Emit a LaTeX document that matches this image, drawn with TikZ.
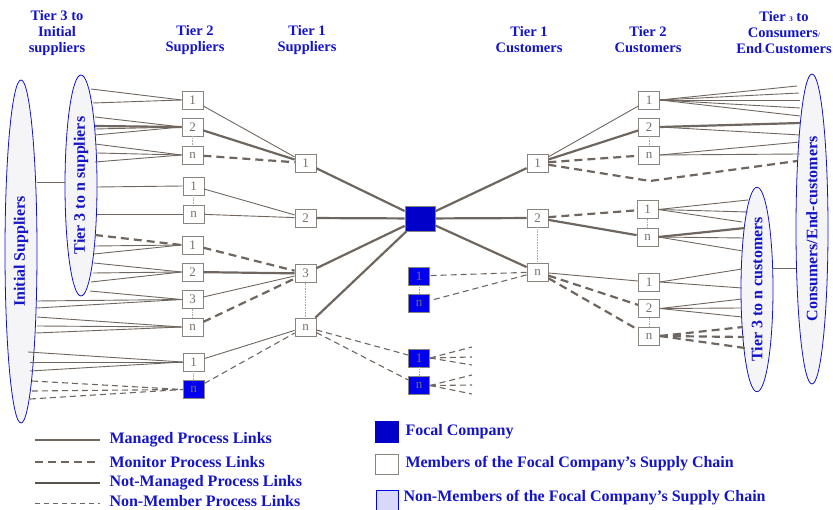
\documentclass[tikz,border=0pt]{standalone}
\usepackage{fontspec}
\setmainfont{Liberation Serif}
\usepackage{xcolor}
\usepackage{tikz}
\usetikzlibrary{shapes.geometric,calc}
\definecolor{linkgray}{HTML}{6F675F}
\definecolor{boxgray}{HTML}{8A847E}
\definecolor{numgray}{HTML}{77706A}
\definecolor{headblue}{HTML}{1414C8}
\definecolor{focalblue}{HTML}{0000C8}
\definecolor{nonblue}{HTML}{0000EE}
\definecolor{ellfill}{HTML}{F5F5F8}
\definecolor{lightnon}{HTML}{D8D8F8}

\begin{document}
\begin{tikzpicture}[x=1pt, y=-1pt,
    member/.style={rectangle, draw=boxgray, fill=white, line width=0.8pt, minimum width=21pt, minimum height=18pt, inner sep=0pt, text=numgray, font=\fontsize{13}{13}\selectfont},
    nonmember/.style={member, fill=nonblue},
    focal/.style={rectangle, draw=boxgray, fill=focalblue, line width=0.8pt, minimum width=30pt, minimum height=25pt},
    tier/.style={ellipse, draw=headblue, fill=ellfill, line width=0.8pt, inner sep=0pt, rotate=90, minimum height=32pt, text=headblue, font=\fontsize{16}{18}\selectfont\bfseries},
    heading/.style={align=center, text=headblue, font=\fontsize{14.5}{16}\selectfont\bfseries},
    legtext/.style={anchor=west, text=headblue, font=\fontsize{16}{18}\selectfont\bfseries},
    managed/.style={draw=linkgray, line width=2.2pt},
    monitor/.style={draw=linkgray, line width=2.2pt, dash pattern=on 8pt off 5pt},
    notmanaged/.style={draw=linkgray, line width=0.9pt},
    nonmemlink/.style={draw=linkgray, line width=1.1pt, dash pattern=on 6pt off 4pt},
    grouplink/.style={draw=boxgray!70, densely dotted, line width=0.6pt}
]
    \useasboundingbox (0,0) rectangle (833,510);

    % Column headings
    \node[heading] (h3s) at (57,33) {Tier 3 to\\Initial\\suppliers};
    \node[heading] (h2s) at (195,40) {Tier 2\\Suppliers};
    \node[heading] (h1s) at (307,40) {Tier 1\\Suppliers};
    \node[heading] (h1c) at (529,40) {Tier 1\\Customers};
    \node[heading] (h2c) at (648,40) {Tier 2\\Customers};
    \node[heading] (h3c) at (784,33) {Tier {\scriptsize 3} to\\Consumers{\scriptsize/}\\End{\footnotesize-}Customers};

    % Supplier and customer ellipses
    \node[tier, minimum width=343pt] (initsup) at (21,251.5) {Initial Suppliers};
    \node[tier, minimum width=221pt] (t3sup) at (81,185.5) {Tier 3 to n suppliers};
    \node[tier, minimum width=310pt] (endcust) at (812,229) {Consumers/End-customers};
    \node[tier, minimum width=195pt] (t3cust) at (757,289.5) {Tier 3 to n customers};
    \coordinate (sjoin) at (65,182);
    \coordinate (cjoin) at (773,268);
    \draw[notmanaged] (initsup.south |- sjoin) -- (sjoin);
    \draw[notmanaged] (cjoin) -- (endcust.north |- cjoin);

    % Tier 2 suppliers
    \node[member] (s2a1) at (192.5,100) {1};
    \node[member] (s2a2) at (192.5,127) {2};
    \node[member] (s2an) at (192.5,155) {n};
    \node[member] (s2b1) at (193.5,186) {1};
    \node[member] (s2bn) at (193.5,214) {n};
    \node[member] (s2c1) at (192.5,245) {1};
    \node[member] (s2c2) at (192.5,272) {2};
    \node[member] (s2c3) at (192.5,299.5) {3};
    \node[member] (s2cn) at (192.5,327) {n};
    \node[member] (s2d1) at (193.5,362) {1};
    \node[nonmember] (s2dn) at (193.5,389.5) {n};

    % Tier 1 suppliers, focal company, tier 1 customers
    \node[member] (t1s1) at (305.5,163) {1};
    \node[member] (t1s2) at (305.5,218) {2};
    \node[member] (t1s3) at (305.5,273.5) {3};
    \node[member] (t1sn) at (305.5,327) {n};
    \node[focal] (focal) at (420,218.5) {};
    \node[member] (c1a) at (537.5,163) {1};
    \node[member] (c1b) at (537.5,218) {2};
    \node[member] (c1n) at (537.5,272) {n};

    % Non-members in the middle
    \node[nonmember] (m1a) at (419,276) {1};
    \node[nonmember] (m1n) at (419,303.5) {n};
    \node[nonmember] (m2a) at (419,358) {1};
    \node[nonmember] (m2n) at (419,385.5) {n};

    % Tier 2 customers
    \node[member] (c2a1) at (649,100) {1};
    \node[member] (c2a2) at (649,127) {2};
    \node[member] (c2an) at (649,155) {n};
    \node[member] (c2b1) at (647.5,209.5) {1};
    \node[member] (c2bn) at (647.5,237) {n};
    \node[member] (c2c1) at (649,282) {1};
    \node[member] (c2c2) at (649,308.5) {2};
    \node[member] (c2cn) at (649,336) {n};

    % Dotted group markers
    \foreach \a/\b in {s2a2/s2an, s2b1/s2bn, s2c3/s2cn, s2d1/s2dn, t1s3/t1sn, c1b/c1n, c2a2/c2an, c2b1/c2bn, c2c2/c2cn, m1a/m1n, m2a/m2n}
        \draw[grouplink] (\a) -- (\b);

    % Links from the supplier ellipses
    \foreach \x/\y/\n/\s [count=\i] in {91/89/s2a1/notmanaged, 93/103/s2a1/notmanaged,
        95/117/s2a2/notmanaged, 95/126/s2a2/managed, 95/129/s2a2/notmanaged, 95/135/s2a2/notmanaged,
        95/144/s2an/notmanaged, 97/153/s2an/notmanaged, 95/162/s2an/notmanaged,
        97/187/s2b1/notmanaged, 97/214/s2bn/notmanaged,
        95/235/s2c1/monitor, 95/246/s2c1/notmanaged, 94/254/s2c1/notmanaged,
        94/263/s2c2/notmanaged, 93/273/s2c2/notmanaged, 91/282/s2c2/notmanaged,
        90/291/s2c3/notmanaged, 37/301/s2c3/notmanaged, 37/308/s2c3/notmanaged,
        37/317/s2cn/notmanaged, 37/326/s2cn/notmanaged, 36/333/s2cn/notmanaged,
        28/352/s2d1/notmanaged, 30/362/s2d1/notmanaged, 30/371/s2d1/notmanaged,
        32/381/s2dn/nonmemlink, 32/391/s2dn/nonmemlink, 30/399/s2dn/nonmemlink} {
        \coordinate (sf\i) at (\x,\y);
        \draw[\s] (sf\i) -- (\n.west);
    }

    % Supplier side links
    \draw[notmanaged] (s2a1) -- (t1s1);
    \draw[managed] (s2a2) -- (t1s1);
    \draw[monitor] (s2an) -- (t1s1);
    \draw[notmanaged] (s2b1) -- (t1s2);
    \draw[notmanaged] (s2bn) -- (t1s2);
    \draw[monitor] (s2c1) -- (t1s3);
    \draw[managed] (s2c2) -- (t1s3);
    \draw[notmanaged] (s2c3) -- (t1s3);
    \draw[monitor] (s2cn) -- (t1s3);
    \draw[notmanaged] (s2d1) -- (t1sn);
    \draw[nonmemlink] (s2dn) -- (t1sn);
    \foreach \n in {t1s1,t1s2,t1s3,t1sn}
        \draw[managed] (\n) -- (focal);
    \draw[nonmemlink] (t1sn) -- (m2a);
    \draw[nonmemlink] (t1sn) -- (m2n);
    \foreach \n/\y [count=\i] in {m2a/347, m2a/357, m2a/365, m2n/375, m2n/385, m2n/394} {
        \coordinate (mf\i) at (472,\y);
        \draw[nonmemlink] (\n.east) -- (mf\i);
    }

    % Customer side links
    \foreach \n in {c1a,c1b,c1n}
        \draw[managed] (focal) -- (\n);
    \draw[nonmemlink] (c1n) -- (m1a);
    \draw[nonmemlink] (c1n) -- (m1n);
    \draw[notmanaged] (c1a) -- (c2a1);
    \draw[managed] (c1a) -- (c2a2);
    \draw[monitor] (c1a) -- (c2an);
    \coordinate (dip) at (650,181);
    \coordinate (ce) at (797,161);
    \draw[monitor] (c1a) -- (dip) -- (ce);
    \draw[monitor] (c1b) -- (c2b1);
    \draw[managed] (c1b) -- (c2bn);
    \draw[notmanaged] (c1n) -- (c2c1);
    \draw[monitor] (c1n) -- (c2c2);
    \draw[monitor] (c1n) -- (c2cn);

    % Links into the customer ellipses
    \foreach \x/\y/\n/\s [count=\i] in {797/86/c2a1/notmanaged, 799/93/c2a1/notmanaged, 800/100/c2a1/notmanaged, 800/108/c2a1/notmanaged, 800/116/c2a1/notmanaged,
        800/123/c2a2/managed, 800/135/c2a2/notmanaged,
        800/142/c2an/notmanaged, 800/154/c2an/notmanaged,
        748/200/c2b1/notmanaged, 748/212/c2b1/notmanaged, 742/222/c2b1/notmanaged,
        745/228/c2bn/managed, 744/238/c2bn/notmanaged, 743/251/c2bn/notmanaged,
        742/269/c2c1/notmanaged, 742/288/c2c1/notmanaged,
        742/299/c2c2/notmanaged, 742/308/c2c2/notmanaged, 742/317/c2c2/notmanaged,
        743/327/c2cn/monitor, 744/337/c2cn/monitor, 745/348/c2cn/monitor} {
        \coordinate (cf\i) at (\x,\y);
        \draw[\s] (\n.east) -- (cf\i);
    }

    % Legend
    \coordinate (la1) at (35,440); \coordinate (lb1) at (100,440);
    \coordinate (la2) at (35,462); \coordinate (lb2) at (100,462);
    \coordinate (la3) at (35,483); \coordinate (lb3) at (100,483);
    \coordinate (la4) at (35,503); \coordinate (lb4) at (100,503);
    \draw[managed] (la1) -- (lb1);
    \draw[monitor] (la2) -- (lb2);
    \draw[notmanaged, line width=1.8pt, draw=linkgray!80!black] (la3) -- (lb3);
    \draw[nonmemlink, line width=0.8pt, dash pattern=on 5pt off 4pt] (la4) -- (lb4);
    \node[legtext] (lt1) at (106,440) {Managed Process Links};
    \node[legtext] (lt2) at (106,462) {Monitor Process Links};
    \node[legtext] (lt3) at (106,483) {Not-Managed Process Links};
    \node[legtext] (lt4) at (106,501.5) {Non-Member Process Links};

    \node[focal, draw=focalblue, minimum width=23pt, minimum height=21pt] (lgfocal) at (386.5,431.5) {};
    \node[legtext] (lgt1) at (402,432) {Focal Company};
    \node[member, minimum width=23pt, minimum height=20pt] (lgmember) at (386.5,464) {};
    \node[legtext] (lgt2) at (402,464) {Members of the Focal Company's Supply Chain};
    \node[rectangle, draw=nonblue, fill=lightnon, line width=0.8pt, minimum width=22pt, minimum height=22pt] (lgnon) at (387,501) {};
    \node[legtext] (lgt3) at (400,497.5) {Non-Members of the Focal Company's Supply Chain};
\end{tikzpicture}
\end{document}
